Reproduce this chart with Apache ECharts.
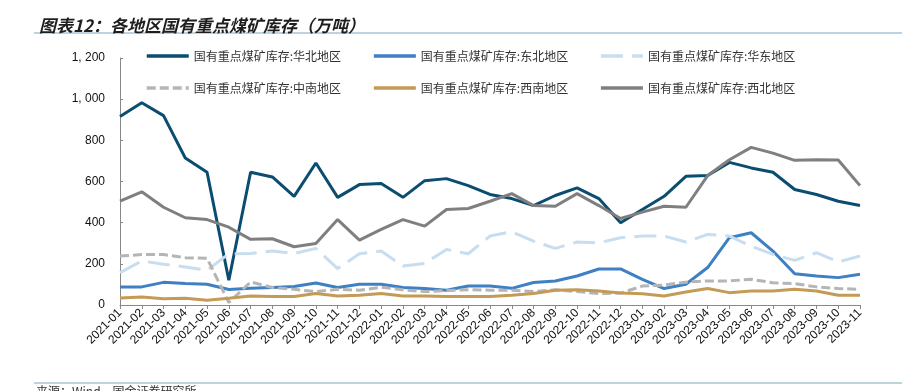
<!DOCTYPE html>
<html lang="zh">
<head>
    <meta charset="UTF-8">
    <script src="https://cdn.jsdelivr.net/npm/echarts@6.0.0/dist/echarts.min.js"></script>
    <style>
        html, body { margin: 0; padding: 0; background: #fff; }
    </style>
</head>
<body>
<div id="stockChart" style="width: 902px;height:391px;"></div>
<script type="text/javascript">

    var months = [
        "2021-01", "2021-02", "2021-03", "2021-04", "2021-05", "2021-06", "2021-07", "2021-08", "2021-09", "2021-10", "2021-11", "2021-12",
        "2022-01", "2022-02", "2022-03", "2022-04", "2022-05", "2022-06", "2022-07", "2022-08", "2022-09", "2022-10", "2022-11", "2022-12",
        "2023-01", "2023-02", "2023-03", "2023-04", "2023-05", "2023-06", "2023-07", "2023-08", "2023-09", "2023-10", "2023-11"
    ];

    // 万吨
    var huabei = [916, 983, 920, 714, 645, 120, 645, 622, 528, 690, 523, 585,
        590, 523, 604, 614, 580, 537, 517, 483, 532, 569, 517, 400,
        464, 528, 625, 629, 693, 666, 645, 561, 537, 504, 483];
    var dongbei = [88, 88, 110, 104, 101, 75, 81, 85, 90, 107, 85, 101,
        101, 85, 80, 72, 92, 92, 81, 109, 117, 141, 175, 175,
        125, 80, 101, 182, 327, 351, 262, 152, 141, 133, 149];
    var huadong = [157, 214, 198, 185, 168, 249, 250, 262, 250, 275, 177, 249,
        262, 189, 202, 270, 249, 335, 356, 310, 275, 306, 302, 327,
        335, 335, 306, 343, 335, 286, 246, 217, 254, 209, 238];
    var zhongnan = [238, 245, 245, 230, 227, 12, 112, 85, 76, 65, 76, 72,
        86, 74, 65, 70, 74, 72, 72, 65, 74, 65, 56, 58,
        92, 97, 111, 117, 117, 125, 108, 104, 88, 80, 76];
    var xinan = [34, 39, 30, 33, 23, 33, 44, 41, 41, 56, 44, 47,
        56, 44, 44, 41, 41, 41, 47, 56, 72, 74, 68, 58,
        55, 44, 63, 80, 60, 68, 68, 76, 68, 47, 47];
    var xibei = [505, 550, 475, 424, 415, 378, 319, 322, 283, 299, 415, 315,
        367, 415, 383, 464, 469, 504, 541, 483, 480, 541, 483, 420,
        451, 480, 475, 629, 706, 766, 738, 703, 706, 704, 580];

    var seriesNames = [
        "国有重点煤矿库存:华北地区", "国有重点煤矿库存:东北地区", "国有重点煤矿库存:华东地区",
        "国有重点煤矿库存:中南地区", "国有重点煤矿库存:西南地区", "国有重点煤矿库存:西北地区"
    ];

    var cnFont = "'Noto Sans CJK SC', sans-serif";
    var numFont = "'Liberation Sans', Arial, sans-serif";

    function makeLine(name, values, color, dash) {
        return {
            name: name,
            type: "line",
            data: values,
            symbol: "none",
            smooth: false,
            lineStyle: { color: color, width: 3, type: dash || "solid" },
            itemStyle: { color: color },
            z: 2
        };
    }

    var chart = echarts.init(document.getElementById("stockChart"));

    var legendCommon = {
        orient: "horizontal",
        left: 140,
        itemWidth: 42,
        itemHeight: 14,
        itemGap: 31,
        itemStyle: { opacity: 0 },
        lineStyle: { width: 3.5 },
        textStyle: { fontSize: 12, color: "#333", fontFamily: cnFont }
    };

    var option = {
        animation: false,
        title: {
            text: "图表12：各地区国有重点煤矿库存（万吨）",
            left: 34,
            top: 12,
            textStyle: {
                fontSize: 17,
                fontWeight: "bold",
                fontStyle: "italic",
                color: "#1e1e1e",
                fontFamily: cnFont
            }
        },
        legend: [
            Object.assign({}, legendCommon, { top: 45, data: seriesNames.slice(0, 3) }),
            Object.assign({}, legendCommon, { top: 77, data: seriesNames.slice(3, 6) })
        ],
        grid: { left: 120, right: 42, top: 58, bottom: 86 },
        xAxis: {
            type: "category",
            data: months,
            boundaryGap: false,
            axisLine: { lineStyle: { color: "#888", width: 1 } },
            axisTick: { show: true, length: 4, lineStyle: { color: "#888" } },
            axisLabel: {
                interval: 0,
                rotate: 45,
                fontSize: 12,
                color: "#111",
                fontFamily: numFont,
                margin: 6
            },
            splitLine: { show: false }
        },
        yAxis: {
            type: "value",
            min: 0,
            max: 1200,
            interval: 200,
            axisLine: { show: true, lineStyle: { color: "#888", width: 1 } },
            axisTick: { show: true, inside: true, length: 3, lineStyle: { color: "#888" } },
            axisLabel: {
                fontSize: 12,
                color: "#111",
                fontFamily: numFont,
                margin: 15,
                formatter: function (v) {
                    return v >= 1000 ? Math.floor(v / 1000) + ", " + String(v % 1000).padStart(3, "0") : String(v);
                }
            },
            splitLine: { show: false }
        },
        graphic: [
            {
                type: "line",
                shape: { x1: 34, y1: 33, x2: 902, y2: 33 },
                style: { stroke: "#a9c5d8", lineWidth: 1.5 }
            },
            {
                type: "line",
                shape: { x1: 34, y1: 383, x2: 902, y2: 383 },
                style: { stroke: "#7ea8ba", lineWidth: 1 }
            },
            {
                type: "text",
                left: 36,
                top: 385,
                style: { text: "来源：Wind，国金证券研究所", fontSize: 12, fill: "#333", fontFamily: cnFont }
            }
        ],
        series: [
            makeLine(seriesNames[0], huabei, "#0b4d70"),
            makeLine(seriesNames[1], dongbei, "#3f7fc3"),
            makeLine(seriesNames[2], huadong, "#c8ddf0", [22, 9]),
            makeLine(seriesNames[3], zhongnan, "#b5b5b5", [9, 4]),
            makeLine(seriesNames[4], xinan, "#c39b56"),
            makeLine(seriesNames[5], xibei, "#7f7f7f")
        ]
    };

    chart.setOption(option);
</script>
</body>
</html>
